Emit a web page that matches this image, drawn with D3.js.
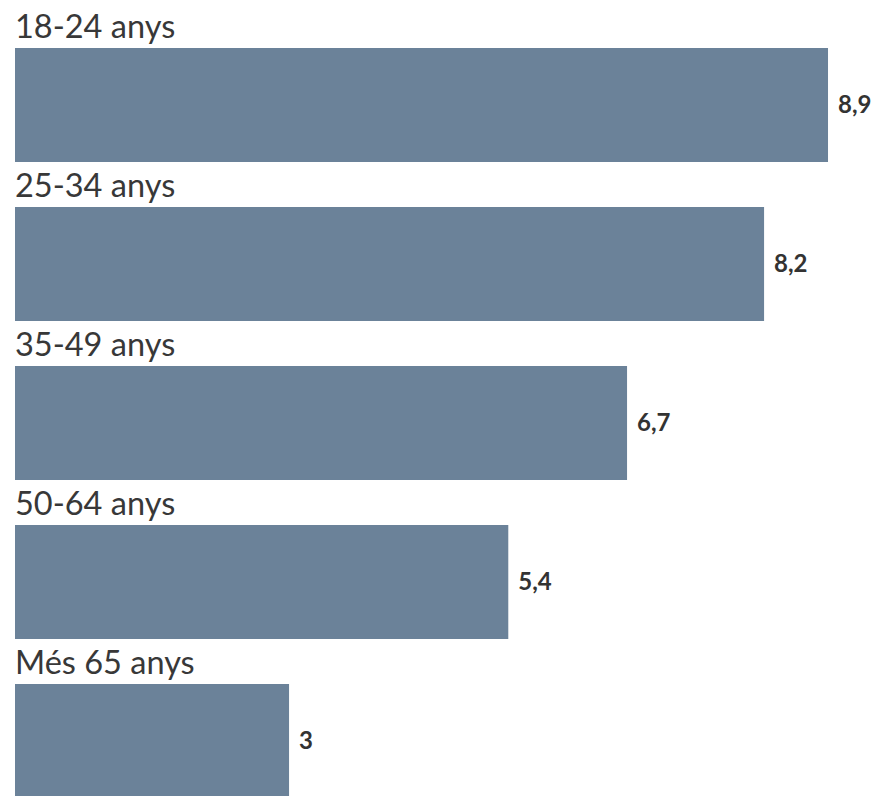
<!DOCTYPE html>
<html><head><meta charset="utf-8">
<script src="https://cdn.jsdelivr.net/npm/d3@7"></script>
<style>html,body{margin:0;padding:0;background:#fff;overflow:hidden}</style>
</head><body>
<svg id="chart" width="884" height="796"></svg>
<script>
const categories = ["18-24 anys", "25-34 anys", "35-49 anys", "50-64 anys", "Més 65 anys"];
const values = [8.9, 8.2, 6.7, 5.4, 3];
const valueLabels = ["8,9", "8,2", "6,7", "5,4", "3"];

const svg = d3.select("#chart");
const left = 15;
const x = d3.scaleLinear().domain([0, 10]).range([left, left + 913.5]);
const y = d3.scaleBand().domain(categories).range([48, 798])
  .paddingInner(45 / 159).paddingOuter(0).align(0);

const rows = svg.append("g").selectAll("g.row")
  .data(categories.map((c, i) => ({ cat: c, value: values[i], label: valueLabels[i] })))
  .enter().append("g").attr("class", "row");

rows.append("rect")
  .attr("x", x(0))
  .attr("y", d => y(d.cat))
  .attr("width", d => x(d.value) - x(0))
  .attr("height", y.bandwidth())
  .attr("fill", "#6b8299");

rows.append("text")
  .attr("x", x(0))
  .attr("y", d => y(d.cat) - 10)
  .attr("font-family", "Lato, 'Open Sans', sans-serif")
  .attr("font-size", 32.5)
  .attr("fill", "#383838")
  .text(d => d.cat);

rows.append("text")
  .attr("x", d => x(d.value) + 10)
  .attr("y", d => y(d.cat) + y.bandwidth() / 2)
  .attr("dy", "0.35em")
  .attr("font-family", "Lato, 'Open Sans', sans-serif")
  .attr("font-weight", "bold")
  .attr("font-size", 24)
  .attr("fill", "#333")
  .text(d => d.label);
</script>
</body></html>
